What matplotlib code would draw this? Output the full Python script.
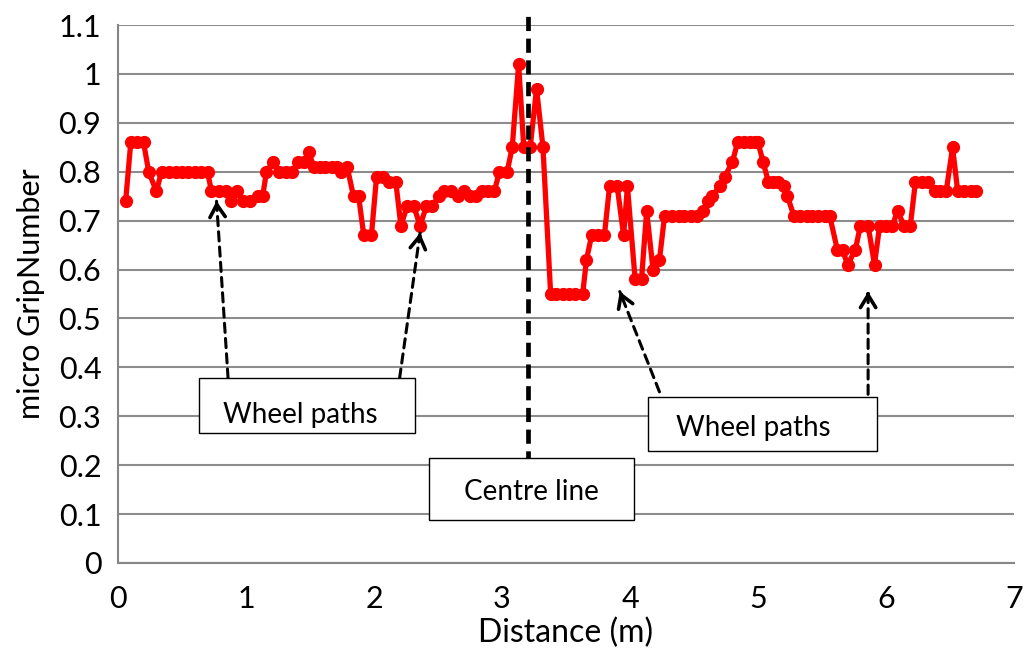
import matplotlib
matplotlib.use("Agg")
import matplotlib.pyplot as plt

plt.rcParams["font.family"] = ["Lato", "DejaVu Sans"]

# -------------------------------------------------
# Data
# -------------------------------------------------
distance = [
    0.06, 0.10, 0.15, 0.20, 0.24, 0.30, 0.34, 0.40, 0.45, 0.50,
    0.55, 0.60, 0.65, 0.70, 0.73, 0.79, 0.84, 0.88, 0.93, 0.98,
    1.03, 1.09, 1.13, 1.16, 1.21, 1.26, 1.31, 1.36, 1.41, 1.45,
    1.49, 1.53, 1.58, 1.62, 1.67, 1.71, 1.74, 1.79, 1.84, 1.88,
    1.92, 1.98, 2.02, 2.07, 2.12, 2.17, 2.21, 2.26, 2.31, 2.36,
    2.41, 2.45, 2.51, 2.55, 2.60, 2.66, 2.70, 2.75, 2.80, 2.84,
    2.89, 2.94, 2.98, 3.04, 3.08, 3.13, 3.17, 3.22, 3.27, 3.32,
    3.38, 3.42, 3.48, 3.52, 3.57, 3.63, 3.66, 3.70, 3.75, 3.80,
    3.84, 3.90, 3.95, 3.98, 4.04, 4.09, 4.13, 4.18, 4.23, 4.27,
    4.33, 4.38, 4.42, 4.48, 4.52, 4.57, 4.61, 4.64, 4.70, 4.74,
    4.80, 4.84, 4.89, 4.94, 4.98, 5.00, 5.04, 5.08, 5.12, 5.16,
    5.20, 5.23, 5.28, 5.33, 5.38, 5.42, 5.47, 5.52, 5.56, 5.62,
    5.66, 5.70, 5.76, 5.80, 5.86, 5.91, 5.95, 6.00, 6.05, 6.09,
    6.14, 6.19, 6.23, 6.28, 6.33, 6.38, 6.42, 6.47, 6.52, 6.56,
    6.61, 6.66, 6.70,
]
grip = [
    0.74, 0.86, 0.86, 0.86, 0.80, 0.76, 0.80, 0.80, 0.80, 0.80,
    0.80, 0.80, 0.80, 0.80, 0.76, 0.76, 0.76, 0.74, 0.76, 0.74,
    0.74, 0.75, 0.75, 0.80, 0.82, 0.80, 0.80, 0.80, 0.82, 0.82,
    0.84, 0.81, 0.81, 0.81, 0.81, 0.81, 0.80, 0.81, 0.75, 0.75,
    0.67, 0.67, 0.79, 0.79, 0.78, 0.78, 0.69, 0.73, 0.73, 0.69,
    0.73, 0.73, 0.75, 0.76, 0.76, 0.75, 0.76, 0.75, 0.75, 0.76,
    0.76, 0.76, 0.80, 0.80, 0.85, 1.02, 0.85, 0.85, 0.97, 0.85,
    0.55, 0.55, 0.55, 0.55, 0.55, 0.55, 0.62, 0.67, 0.67, 0.67,
    0.77, 0.77, 0.67, 0.77, 0.58, 0.58, 0.72, 0.60, 0.62, 0.71,
    0.71, 0.71, 0.71, 0.71, 0.71, 0.72, 0.74, 0.75, 0.77, 0.79,
    0.82, 0.86, 0.86, 0.86, 0.86, 0.86, 0.82, 0.78, 0.78, 0.78,
    0.77, 0.75, 0.71, 0.71, 0.71, 0.71, 0.71, 0.71, 0.71, 0.64,
    0.64, 0.61, 0.64, 0.69, 0.69, 0.61, 0.69, 0.69, 0.69, 0.72,
    0.69, 0.69, 0.78, 0.78, 0.78, 0.76, 0.76, 0.76, 0.85, 0.76,
    0.76, 0.76, 0.76,
]

x_ticks = [0, 1, 2, 3, 4, 5, 6, 7]
y_ticks = [0, 0.1, 0.2, 0.3, 0.4, 0.5, 0.6, 0.7, 0.8, 0.9, 1.0, 1.1]
y_tick_labels = ["0", "0.1", "0.2", "0.3", "0.4", "0.5", "0.6", "0.7",
                 "0.8", "0.9", "1", "1.1"]

centre_x = 3.2

# callouts: (text, box x0, y0, x1, y1, text x fraction, text y fraction)
boxes = [
    ("Wheel paths", 0.63, 0.265, 2.32, 0.378, 0.47, 0.33),
    ("Wheel paths", 4.14, 0.228, 5.93, 0.340, 0.46, 0.42),
    ("Centre line", 2.43, 0.088, 4.03, 0.215, 0.50, 0.45),
]
# arrows: (start x, start y, tip x, tip y)
arrows = [
    (0.86, 0.378, 0.77, 0.74),
    (2.20, 0.378, 2.36, 0.675),
    (4.23, 0.350, 3.92, 0.555),
    (5.86, 0.345, 5.86, 0.555),
]

# -------------------------------------------------
# Plot
# -------------------------------------------------
fig = plt.figure(figsize=(10.25, 6.6), dpi=100)
ax = fig.add_axes([0.1151, 0.147, 0.8742, 0.815])

ax.set_xlim(0, 7)
ax.set_ylim(0, 1.1)
ax.set_xticks(x_ticks)
ax.set_yticks(y_ticks)
ax.set_yticklabels(y_tick_labels)
ax.tick_params(labelsize=22, length=0, color="#868686")
ax.tick_params(axis="x", pad=16)
ax.tick_params(axis="y", pad=12)
ax.grid(axis="y", color="#8c8c8c", linewidth=1.5)
ax.set_axisbelow(True)
for side in ["top", "right"]:
    ax.spines[side].set_visible(False)
for side in ["left", "bottom"]:
    ax.spines[side].set_color("#868686")
    ax.spines[side].set_linewidth(1.5)

ax.plot(distance, grip, color="#ff0000", linewidth=3.8, marker="o",
        markersize=8.5, zorder=3)

ax.set_xlabel("Distance (m)", fontsize=23, labelpad=3)
ax.set_ylabel("micro GripNumber", fontsize=22, labelpad=10)

# centre line (drawn shape in original)
ax.plot([centre_x, centre_x], [0.2, 1.118], color="black", linewidth=3.4,
        linestyle=(0, (3, 1.6)), clip_on=False, zorder=4)

for tx, bx0, by0, bx1, by1, fx, fy in boxes:
    ax.fill([bx0, bx1, bx1, bx0], [by0, by0, by1, by1], facecolor="white",
            edgecolor="black", linewidth=1.0, zorder=5)
    ax.text(bx0 + (bx1 - bx0) * fx, by0 + (by1 - by0) * fy, tx,
            fontsize=20, ha="center", va="center", zorder=6)

for sx, sy, ex, ey in arrows:
    ax.annotate("", xy=(ex, ey), xytext=(sx, sy),
                arrowprops=dict(arrowstyle="-", color="black", linewidth=2.2,
                                linestyle=(0, (3, 2)), shrinkA=0, shrinkB=0),
                zorder=4)
    # open arrow head
    ax.annotate("", xy=(ex, ey), xytext=(ex - (ex - sx) * 0.03, ey - (ey - sy) * 0.03),
                arrowprops=dict(arrowstyle="->,head_width=0.55,head_length=0.9",
                                color="black", linewidth=2.6, shrinkA=0, shrinkB=0),
                zorder=4)

fig.savefig("out.png", dpi=100)
